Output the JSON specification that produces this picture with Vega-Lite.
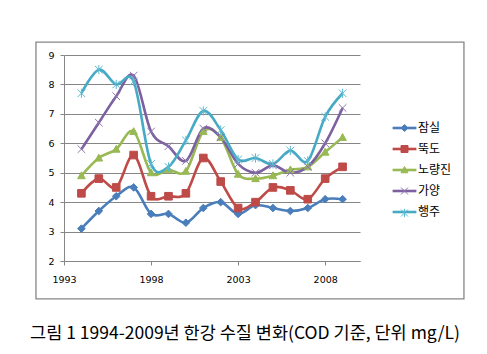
{
  "$schema": "https://vega.github.io/schema/vega-lite/v6.json",
  "width": 296,
  "height": 206,
  "autosize": {"type": "none"},
  "padding": {"left": 64, "top": 55, "right": 127, "bottom": 93},
  "background": "white",
  "config": {
    "view": {"stroke": null},
    "axis": {"labelFont": "DejaVu Sans", "labelFontSize": 9.5, "labelColor": "#000000", "domainColor": "#868686", "tickColor": "#868686", "gridColor": "#868686", "domainWidth": 1, "gridWidth": 1, "tickWidth": 1},
    "legend": {
      "orient": "none",
      "legendX": 334.5,
      "legendY": 67,
      "padding": 0,
      "symbolSize": 49,
      "rowPadding": 9,
      "labelOffset": 7.5,
      "labelFont": "Noto Sans CJK KR",
      "labelFontSize": 12,
      "labelColor": "#000000"
    }
  },
  "title": {
    "text": "그림 1 1994-2009년 한강 수질 변화(COD 기준, 단위 mg/L)",
    "orient": "bottom",
    "anchor": "middle",
    "frame": "group",
    "dx": 33,
    "offset": 25,
    "font": "Noto Sans CJK KR",
    "fontSize": 17.5,
    "fontWeight": "normal",
    "color": "#000000"
  },
  "data": {
    "values": [
      {"year": 1994, "site": "잠실", "cod": 3.1}, {"year": 1995, "site": "잠실", "cod": 3.7}, {"year": 1996, "site": "잠실", "cod": 4.2}, {"year": 1997, "site": "잠실", "cod": 4.5},
      {"year": 1998, "site": "잠실", "cod": 3.6}, {"year": 1999, "site": "잠실", "cod": 3.6}, {"year": 2000, "site": "잠실", "cod": 3.3}, {"year": 2001, "site": "잠실", "cod": 3.8},
      {"year": 2002, "site": "잠실", "cod": 4.0}, {"year": 2003, "site": "잠실", "cod": 3.6}, {"year": 2004, "site": "잠실", "cod": 3.9}, {"year": 2005, "site": "잠실", "cod": 3.8},
      {"year": 2006, "site": "잠실", "cod": 3.7}, {"year": 2007, "site": "잠실", "cod": 3.8}, {"year": 2008, "site": "잠실", "cod": 4.1}, {"year": 2009, "site": "잠실", "cod": 4.1},
      {"year": 1994, "site": "뚝도", "cod": 4.3}, {"year": 1995, "site": "뚝도", "cod": 4.8}, {"year": 1996, "site": "뚝도", "cod": 4.5}, {"year": 1997, "site": "뚝도", "cod": 5.6},
      {"year": 1998, "site": "뚝도", "cod": 4.2}, {"year": 1999, "site": "뚝도", "cod": 4.2}, {"year": 2000, "site": "뚝도", "cod": 4.3}, {"year": 2001, "site": "뚝도", "cod": 5.5},
      {"year": 2002, "site": "뚝도", "cod": 4.7}, {"year": 2003, "site": "뚝도", "cod": 3.8}, {"year": 2004, "site": "뚝도", "cod": 4.0}, {"year": 2005, "site": "뚝도", "cod": 4.5},
      {"year": 2006, "site": "뚝도", "cod": 4.4}, {"year": 2007, "site": "뚝도", "cod": 4.1}, {"year": 2008, "site": "뚝도", "cod": 4.8}, {"year": 2009, "site": "뚝도", "cod": 5.2},
      {"year": 1994, "site": "노량진", "cod": 4.9}, {"year": 1995, "site": "노량진", "cod": 5.5}, {"year": 1996, "site": "노량진", "cod": 5.8}, {"year": 1997, "site": "노량진", "cod": 6.4},
      {"year": 1998, "site": "노량진", "cod": 5.0}, {"year": 1999, "site": "노량진", "cod": 5.1}, {"year": 2000, "site": "노량진", "cod": 5.05}, {"year": 2001, "site": "노량진", "cod": 6.4},
      {"year": 2002, "site": "노량진", "cod": 6.2}, {"year": 2003, "site": "노량진", "cod": 4.95}, {"year": 2004, "site": "노량진", "cod": 4.8}, {"year": 2005, "site": "노량진", "cod": 4.9},
      {"year": 2006, "site": "노량진", "cod": 5.1}, {"year": 2007, "site": "노량진", "cod": 5.2}, {"year": 2008, "site": "노량진", "cod": 5.7}, {"year": 2009, "site": "노량진", "cod": 6.2},
      {"year": 1994, "site": "가양", "cod": 5.8}, {"year": 1995, "site": "가양", "cod": 6.7}, {"year": 1996, "site": "가양", "cod": 7.6}, {"year": 1997, "site": "가양", "cod": 8.3},
      {"year": 1998, "site": "가양", "cod": 6.4}, {"year": 1999, "site": "가양", "cod": 5.9}, {"year": 2000, "site": "가양", "cod": 5.4}, {"year": 2001, "site": "가양", "cod": 6.5},
      {"year": 2002, "site": "가양", "cod": 6.2}, {"year": 2003, "site": "가양", "cod": 5.3}, {"year": 2004, "site": "가양", "cod": 5.0}, {"year": 2005, "site": "가양", "cod": 5.25},
      {"year": 2006, "site": "가양", "cod": 5.0}, {"year": 2007, "site": "가양", "cod": 5.2}, {"year": 2008, "site": "가양", "cod": 6.0}, {"year": 2009, "site": "가양", "cod": 7.2},
      {"year": 1994, "site": "행주", "cod": 7.7}, {"year": 1995, "site": "행주", "cod": 8.5}, {"year": 1996, "site": "행주", "cod": 8.0}, {"year": 1997, "site": "행주", "cod": 8.1},
      {"year": 1998, "site": "행주", "cod": 5.3}, {"year": 1999, "site": "행주", "cod": 5.2}, {"year": 2000, "site": "행주", "cod": 6.1}, {"year": 2001, "site": "행주", "cod": 7.1},
      {"year": 2002, "site": "행주", "cod": 6.45}, {"year": 2003, "site": "행주", "cod": 5.45}, {"year": 2004, "site": "행주", "cod": 5.5}, {"year": 2005, "site": "행주", "cod": 5.3},
      {"year": 2006, "site": "행주", "cod": 5.75}, {"year": 2007, "site": "행주", "cod": 5.4}, {"year": 2008, "site": "행주", "cod": 6.9}, {"year": 2009, "site": "행주", "cod": 7.7}
    ]
  },
  "layer": [
    {
      "data": {"values": [{"frame": "outer"}]},
      "mark": {"type": "rect", "fill": null, "stroke": "#868686", "strokeWidth": 1.3, "clip": false},
      "encoding": {
        "x": {"datum": 1991.39, "type": "quantitative", "title": null, "scale": {"domain": [1993, 2010], "nice": false, "zero": false},
          "axis": {"values": [1993, 1998, 2003, 2008], "format": "d", "grid": false, "tickSize": 4, "labelPadding": 9, "labelFlush": false}},
        "x2": {"datum": 2015.97},
        "y": {"datum": 9.44, "type": "quantitative", "title": null, "scale": {"domain": [2, 9], "nice": false, "zero": false},
          "axis": {"values": [2, 3, 4, 5, 6, 7, 8, 9], "tickCount": 8, "grid": true, "tickSize": 4, "labelPadding": 6}},
        "y2": {"datum": 0.71}
      }
    },
    {
      "mark": {"type": "line", "interpolate": "cardinal", "strokeWidth": 2.6},
      "encoding": {
        "x": {"field": "year", "type": "quantitative", "title": null, "scale": {"domain": [1993, 2010], "nice": false, "zero": false},
          "axis": {"values": [1993, 1998, 2003, 2008], "format": "d", "grid": false, "tickSize": 4, "labelPadding": 9, "labelFlush": false}},
        "y": {"field": "cod", "type": "quantitative", "title": null, "scale": {"domain": [2, 9], "nice": false, "zero": false},
          "axis": {"values": [2, 3, 4, 5, 6, 7, 8, 9], "tickCount": 8, "grid": true, "tickSize": 4, "labelPadding": 6}},
        "stroke": {"field": "site", "type": "nominal", "title": null, "sort": ["잠실", "뚝도", "노량진", "가양", "행주"],
          "scale": {"range": ["#4A7EBB", "#BE4B48", "#98B954", "#7D60A0", "#46AAC5"]},
          "legend": {"title": null, "symbolType": "M-3.4,0L3.4,0", "symbolStrokeWidth": 2.6}}
      }
    },
    {
      "mark": {"type": "point", "filled": false, "size": 58, "strokeWidth": 1, "opacity": 1},
      "encoding": {
        "x": {"field": "year", "type": "quantitative"},
        "y": {"field": "cod", "type": "quantitative"},
        "color": {"field": "site", "type": "nominal", "title": null,
          "scale": {"domain": ["잠실", "뚝도", "노량진", "가양", "행주"], "range": ["#4A7EBB", "#BE4B48", "#98B954", "#8E78B0", "#5CB8D0"]},
          "legend": {"title": null, "labelOpacity": 0, "symbolStrokeWidth": 1}},
        "fill": {"field": "site", "type": "nominal", "title": null,
          "scale": {"domain": ["잠실", "뚝도", "노량진", "가양", "행주"], "range": ["#4A7EBB", "#BE4B48", "#98B954", "#7D60A0", "#46AAC5"]},
          "legend": {"title": null, "labelOpacity": 0, "symbolStrokeWidth": 1}},
        "shape": {"field": "site", "type": "nominal", "title": null,
          "scale": {"domain": ["잠실", "뚝도", "노량진", "가양", "행주"],
            "range": ["M0,-1L1,0L0,1L-1,0Z", "M-1,-1L1,-1L1,1L-1,1Z", "M0,-1L1,0.8L-1,0.8Z", "M-1,-1L1,1M-1,1L1,-1", "M-1,-1L1,1M-1,1L1,-1M0,-1.2L0,1.2"]},
          "legend": {"title": null, "labelOpacity": 0, "symbolStrokeWidth": 1}}
      }
    }
  ]
}
